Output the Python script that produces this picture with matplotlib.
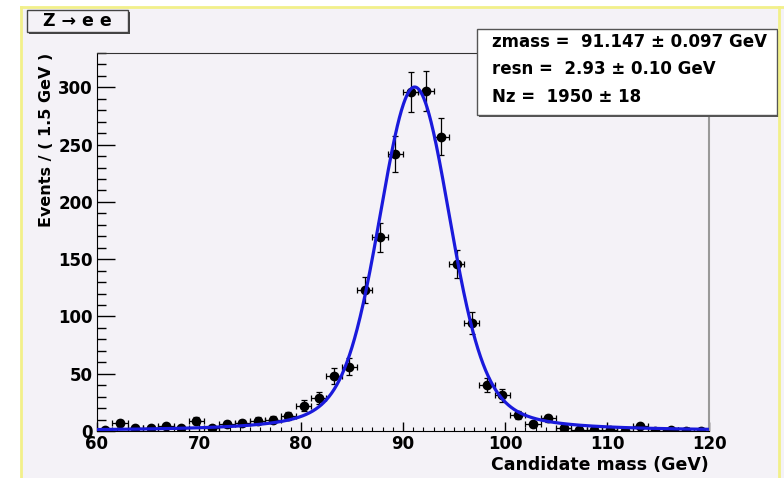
import numpy as np
import matplotlib
matplotlib.use("Agg")
from matplotlib import pyplot as plt
from matplotlib.patches import Rectangle
from matplotlib.lines import Line2D
from matplotlib.ticker import MultipleLocator

plt.rcParams['font.family'] = ['DejaVu Sans']
plt.rcParams['font.weight'] = 'bold'

# binned data, 1.5 GeV bins from 60 to 120
bin_width = 1.5
bin_edges = np.arange(60, 120 + bin_width / 2, bin_width)
counts = [1, 7, 3, 3, 4, 3, 9, 3, 6, 7,
          9, 10, 13, 22, 29, 48, 56, 123, 169, 242,
          296, 297, 257, 146, 94, 40, 31, 14, 6, 11,
          3, 1, 1, 1, 0, 4, 0, 1, 0, 0]

# fit results shown in the stats box
zmass = 91.147
zmass_err = 0.097
resn = 2.93
resn_err = 0.10
nz = 1950
nz_err = 18
z_width = 2.4952  # fixed Breit-Wigner width

centers = 0.5 * (bin_edges[:-1] + bin_edges[1:])
counts = np.array(counts, dtype=float)
yerr = np.sqrt(counts)

# Voigtian fit curve (BW x Gauss), normalised over the fit range
xs = np.linspace(60, 120, 1201)
t = np.linspace(-25, 25, 2501)
dt = t[1] - t[0]
gam = z_width / 2
gauss = np.exp(-t**2 / (2 * resn**2)) / (resn * np.sqrt(2 * np.pi))
bw = (gam / np.pi) / ((xs[:, None] - zmass - t[None, :])**2 + gam**2)
voigt = (bw * gauss[None, :]).sum(axis=1) * dt
voigt = voigt / np.trapezoid(voigt, xs)
curve = voigt * nz * bin_width

W, H = 784, 478
bg = '#f4f2f7'
fig = plt.figure(figsize=(W / 100, H / 100), dpi=100, facecolor=bg)

# white margin and yellow frame of the canvas
fig.add_artist(Rectangle((0, 1 - 7 / H), 1, 7 / H, transform=fig.transFigure,
                         facecolor='white', edgecolor='none'))
fig.add_artist(Rectangle((0, 0), 21 / W, 1, transform=fig.transFigure,
                         facecolor='white', edgecolor='none'))
yel = '#f2f08a'
fig.add_artist(Line2D([21 / W, 1], [1 - 7 / H, 1 - 7 / H], transform=fig.transFigure, color=yel, lw=2))
fig.add_artist(Line2D([21 / W, 21 / W], [0, 1 - 7 / H], transform=fig.transFigure, color=yel, lw=2))
fig.add_artist(Line2D([779 / W, 779 / W], [0, 1 - 7 / H], transform=fig.transFigure, color=yel, lw=2))

ax = fig.add_axes([97 / W, 1 - 431 / H, (709 - 97) / W, (431 - 53) / H])
ax.set_facecolor(bg)

ax.errorbar(centers, counts, yerr=yerr, xerr=bin_width / 2, fmt='o', color='black',
            ms=6, elinewidth=0.9, capsize=2.5, capthick=0.9, zorder=2)
ax.plot(xs, curve, color='#1a1adc', lw=2.3, zorder=3)

ax.set_xlim(60, 120)
ax.set_ylim(0, 330)
ax.xaxis.set_major_locator(MultipleLocator(10))
ax.xaxis.set_minor_locator(MultipleLocator(1))
ax.yaxis.set_major_locator(MultipleLocator(50))
ax.yaxis.set_minor_locator(MultipleLocator(10))
ax.tick_params(axis='y', which='major', direction='in', length=13, width=1, labelsize=12, pad=3)
ax.tick_params(axis='y', which='minor', direction='in', length=6.5, width=1)
ax.tick_params(axis='x', which='major', direction='in', length=6.5, width=1, labelsize=12, pad=3)
ax.tick_params(axis='x', which='minor', direction='in', length=3, width=0.8)
ax.tick_params(top=False, right=False, which='both')
for lab in ax.get_xticklabels() + ax.get_yticklabels():
    lab.set_fontweight('bold')

ax.spines['top'].set_color('#333333')
ax.spines['right'].set_color('#999999')
ax.spines['right'].set_linewidth(1.5)

ax.set_xlabel('Candidate mass (GeV)', fontsize=12.5, fontweight='bold', loc='right', labelpad=2)
ax.set_ylabel('Events / ( 1.5 GeV )', fontsize=11.5, fontweight='bold', loc='top', labelpad=3)

# title box
fig.add_artist(Rectangle((29 / W, 1 - 34 / H), 101 / W, 22 / H, transform=fig.transFigure,
                         facecolor='#444444', edgecolor='none'))
fig.add_artist(Rectangle((27 / W, 1 - 32 / H), 101 / W, 22 / H, transform=fig.transFigure,
                         facecolor=bg, edgecolor='#444444', lw=1))
fig.text(77 / W, 1 - 21 / H, 'Z \u2192 e e', ha='center', va='center', fontsize=12.5, fontweight='bold')

# stats box
fig.add_artist(Rectangle((479 / W, 1 - 117 / H), 300 / W, 86 / H, transform=fig.transFigure,
                         facecolor='#555555', edgecolor='none'))
fig.add_artist(Rectangle((477 / W, 1 - 115 / H), 300 / W, 86 / H, transform=fig.transFigure,
                         facecolor='white', edgecolor='#555555', lw=1))
stats = ['zmass =  %.3f \u00b1 %.3f GeV' % (zmass, zmass_err),
         'resn =  %.2f \u00b1 %.2f GeV' % (resn, resn_err),
         'Nz =  %d \u00b1 %d' % (nz, nz_err)]
for i, s in enumerate(stats):
    fig.text(492 / W, 1 - (42 + 27.5 * i) / H, s, ha='left', va='center', fontsize=12, fontweight='bold')

fig.savefig('out.png', dpi=100, facecolor=fig.get_facecolor())
